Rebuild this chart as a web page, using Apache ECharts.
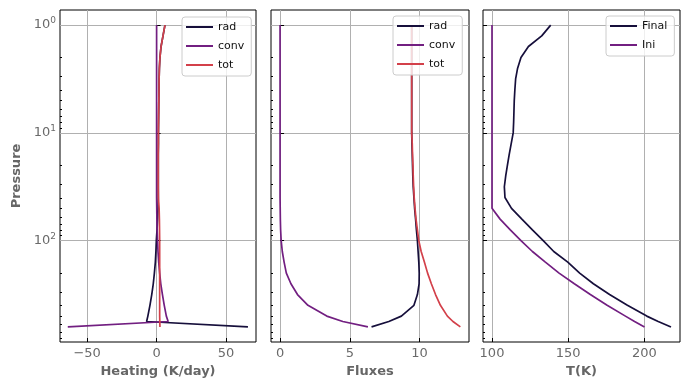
<!DOCTYPE html>
<html><head><meta charset="utf-8">
<script src="https://cdn.jsdelivr.net/npm/echarts@6/dist/echarts.min.js"></script>
<style>html,body{margin:0;padding:0;background:#fff}#c{width:689px;height:390px}</style>
</head><body><div id="c"></div>
<script>
// pressure levels (top of atmosphere -> bottom)
const pressure = [1, 1.26, 1.58, 2.0, 2.51, 3.16, 3.98, 5.01, 6.31, 7.94, 10, 12.6, 15.8, 20.0, 25.1, 31.6, 39.8, 50.1, 63.1, 79.4, 100, 126, 158, 200, 251, 316, 398, 501, 562, 631];

// Panel 1: heating rates (K/day)
const heatRad  = [6.0, 4.6, 3.2, 2.4, 2.0, 1.8, 1.7, 1.6, 1.5, 1.4, 1.3, 1.3, 1.2, 1.2, 1.2, 1.2, 1.2, 1.0, 0.7, 0.3, -0.2, -0.5, -0.9, -1.6, -2.4, -3.5, -4.8, -6.3, -7.2, 65.7];
const heatConv = [0, 0, 0, 0, 0, 0, 0, 0, 0, 0, 0, 0, 0, 0, 0, 0, 0, 0.1, 0.2, 0.4, 0.7, 1.0, 1.5, 2.2, 3.0, 4.2, 5.5, 7.0, 8.3, -63.9];
const heatTot  = [6.0, 4.6, 3.2, 2.4, 2.0, 1.8, 1.7, 1.6, 1.5, 1.4, 1.3, 1.3, 1.2, 1.2, 1.2, 1.2, 1.3, 1.8, 2.0, 2.1, 2.2, 2.2, 2.2, 2.2, 2.2, 2.2, 2.2, 2.2, 2.3, 2.4];

// Panel 2: fluxes
const fluxRad  = [9.44, 9.44, 9.44, 9.44, 9.44, 9.44, 9.44, 9.44, 9.44, 9.44, 9.44, 9.46, 9.48, 9.5, 9.52, 9.55, 9.6, 9.65, 9.72, 9.78, 9.85, 9.9, 9.95, 9.98, 9.97, 9.85, 9.6, 8.7, 7.8, 6.56];
const fluxConv = [0, 0, 0, 0, 0, 0, 0, 0, 0, 0, 0, 0, 0, 0, 0, 0, 0, 0.01, 0.02, 0.04, 0.08, 0.16, 0.29, 0.45, 0.78, 1.25, 2.0, 3.35, 4.5, 6.3];
const fluxTot  = [9.44, 9.44, 9.44, 9.44, 9.44, 9.44, 9.44, 9.44, 9.44, 9.44, 9.44, 9.48, 9.5, 9.53, 9.55, 9.58, 9.62, 9.68, 9.75, 9.85, 9.95, 10.12, 10.35, 10.58, 10.85, 11.15, 11.5, 12.0, 12.4, 12.93];

// Panel 3: temperature (K)
const tFinal = [138.5, 132.6, 123.9, 119.0, 116.8, 115.5, 115.0, 114.6, 114.4, 114.2, 113.9, 112.6, 111.3, 110.1, 109.0, 108.1, 108.5, 112.8, 119.6, 126.5, 133.6, 140.5, 149.7, 157.5, 166.5, 177.1, 188.8, 201.5, 209.0, 217.4];
const tIni   = [100, 100, 100, 100, 100, 100, 100, 100, 100, 100, 100, 100, 100, 100, 100, 100, 100, 100, 105.3, 112.0, 119.0, 126.5, 135.0, 144.0, 154.0, 164.5, 175.5, 187.5, 193.5, 200.0];

// tick labels
const heatTicks = [-50, 0, 50];
const fluxTicks = [0, 5, 10];
const tTicks = [100, 150, 200];
const pMajor = [1, 10, 100];
const pMinor = [2, 3, 4, 5, 6, 7, 8, 9, 20, 30, 40, 50, 60, 70, 80, 90, 200, 300, 400, 500, 600, 700, 800];

const C_RAD = '#160f3b', C_CONV = '#721f81', C_TOT = '#d3404a';
const FONT = 'DejaVu Sans';
const GRIDC = '#b0b0b0';
const LABC = '#6a6a6a';

const grids = [
  {left: 60, top: 10, width: 196, height: 332},
  {left: 271, top: 10, width: 198, height: 332},
  {left: 483, top: 10, width: 197, height: 332}
].map(g => Object.assign(g, {show: true, borderColor: '#000', borderWidth: 1, backgroundColor: 'transparent', outerBoundsMode: 'none', containLabel: false}));

const xr = [[-69.5, 71.5], [-0.65, 13.55], [94.1, 223.3]];
const xTicks = [heatTicks, fluxTicks, tTicks];
const xNames = ['Heating (K/day)', 'Fluxes', 'T(K)'];

const xAxis = [0, 1, 2].map(i => ({
  type: 'value', gridIndex: i, position: 'bottom', min: xr[i][0], max: xr[i][1],
  axisLine: {show: false},
  axisTick: {show: true, inside: true, length: 4, customValues: xTicks[i], lineStyle: {color: '#000', width: 1}},
  axisLabel: {customValues: xTicks[i], margin: 5, color: LABC, fontFamily: FONT, fontSize: 13,
    formatter: v => (v < 0 ? '\u2212' + Math.abs(v) : String(v))},
  splitLine: {show: true, lineStyle: {color: GRIDC, width: 1}},
  name: xNames[i], nameLocation: 'middle', nameGap: 22,
  nameTextStyle: {color: '#666', fontFamily: FONT, fontSize: 13, fontWeight: 'bold'}
}));

const yMin = 0.7244, yMax = 871;
const yAxis = [];
[0, 1, 2].forEach(i => {
  yAxis.push({
    type: 'log', logBase: 10, gridIndex: i, position: 'left', inverse: true, min: yMin, max: yMax,
    axisLine: {show: false},
    axisTick: {show: true, inside: true, length: 4, customValues: pMajor, lineStyle: {color: '#000', width: 1}},
    axisLabel: {show: i === 0, customValues: pMajor, margin: 4, color: LABC, fontFamily: FONT, fontSize: 13, lineHeight: 18,
      formatter: v => '10{s|' + Math.round(Math.log10(v)) + '}',
      rich: {s: {fontSize: 9, color: LABC, fontFamily: FONT, verticalAlign: 'top', lineHeight: 10}}},
    splitLine: {show: true, lineStyle: {color: GRIDC, width: 1}},
    name: i === 0 ? 'Pressure' : '', nameLocation: 'middle', nameGap: 37,
    nameTextStyle: {color: '#666', fontFamily: FONT, fontSize: 13, fontWeight: 'bold'}
  });
});
[0, 1, 2].forEach(i => {
  yAxis.push({
    type: 'log', logBase: 10, gridIndex: i, position: 'left', offset: 0, inverse: true, min: yMin, max: yMax,
    axisLine: {show: false},
    axisTick: {show: true, inside: true, length: 2, customValues: pMinor, lineStyle: {color: '#000', width: 1}},
    axisLabel: {show: false, customValues: pMinor},
    splitLine: {show: false}
  });
});

function pairs(xs) { return xs.map((x, k) => [x, pressure[k]]); }
function line(name, data, color, gi) {
  return {type: 'line', name, data: pairs(data), xAxisIndex: gi, yAxisIndex: gi,
    symbol: 'none', smooth: false, lineStyle: {color, width: 1.7}, itemStyle: {color},
    animation: false, z: 3};
}
const series = [
  line('rad', heatRad, C_RAD, 0), line('conv', heatConv, C_CONV, 0), line('tot', heatTot, C_TOT, 0),
  line('rad', fluxRad, C_RAD, 1), line('conv', fluxConv, C_CONV, 1), line('tot', fluxTot, C_TOT, 1),
  line('Final', tFinal, C_RAD, 2), line('Ini', tIni, C_CONV, 2)
];

function legend(names, left, top) {
  return {data: names, orient: 'vertical', left, top, icon: 'rect', itemWidth: 27, itemHeight: 2, itemGap: 5,
    padding: [3, 7, 4, 4], backgroundColor: 'rgba(255,255,255,0.8)', borderColor: '#cccccc', borderWidth: 1, borderRadius: 3,
    textStyle: {color: '#111', fontFamily: FONT, fontSize: 11, lineHeight: 14}, selectedMode: false, z: 10};
}

const chart = echarts.init(document.getElementById('c'), null, {renderer: 'canvas'});
chart.setOption({
  animation: false,
  backgroundColor: '#fff',
  grid: grids,
  xAxis, yAxis, series,
  legend: [legend(['rad', 'conv', 'tot'], 182, 17), legend(['rad', 'conv', 'tot'], 393, 16), legend(['Final', 'Ini'], 606, 16)]
});
</script></body></html>
